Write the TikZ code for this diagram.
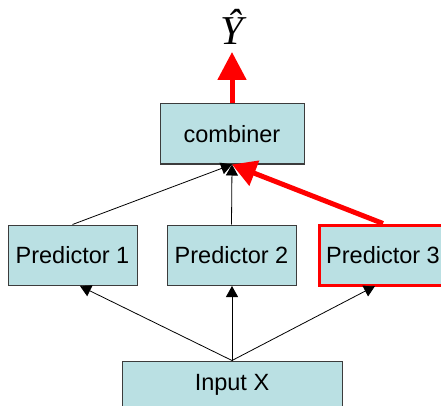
\documentclass[tikz,border=0pt]{standalone}
\usepackage{fontspec}
\setmainfont{Liberation Sans}
\newfontfamily\serifit{Liberation Serif}
\usetikzlibrary{arrows.meta,calc}
\definecolor{boxfill}{RGB}{186,224,227}
\definecolor{boxline}{RGB}{60,60,60}
\tikzset{
  box/.style={draw=boxline,line width=1pt,fill=boxfill,minimum height=60pt,inner sep=0pt,
    font=\fontsize{23.5}{23.5}\selectfont},
  thinarrow/.style={draw=black,line width=0.8pt,-{Triangle[length=11pt,width=12pt]}},
  redarrow/.style={draw=red,line width=5pt,-{Triangle[length=24pt,width=26pt]}}
}
\begin{document}
\begin{tikzpicture}[x=1pt,y=-1pt]
\useasboundingbox (0,0) rectangle (441,406);
\clip (0,0) rectangle (441,406);
\node[box,minimum width=144pt] (comb) at (232,134) {combiner};
\node[box,minimum width=129pt] (p1) at (72.5,255) {Predictor 1};
\node[box,minimum width=129pt] (p2) at (231.5,255) {Predictor 2};
\node[box,minimum width=127pt,draw=red,line width=3pt] (p3) at (383,255) {Predictor 3};
\node[box,minimum width=220pt,minimum height=48pt] (in) at (232,385) {\raisebox{-1pt}{Input X}};
\node (yhat) at (232,27) {\serifit\itshape\fontsize{41}{41}\selectfont Ŷ};
\coordinate (t1) at (80,286);
\coordinate (t2) at (232,286);
\coordinate (t3) at (375,286);
\coordinate (yt) at (232,52);
\draw[thinarrow] (in.north) -- (t1);
\draw[thinarrow] (in.north) -- (t2);
\draw[thinarrow] (in.north) -- (t3);
\draw[thinarrow] (p1.north) -- (comb.south);
\draw[thinarrow] (p2.north) -- (comb.south);
\draw[redarrow] (p3.north) -- (comb.south);
\draw[draw=red,line width=5pt,-{Triangle[length=28pt,width=28pt]}] (comb.north) -- (yt);
\end{tikzpicture}
\end{document}
